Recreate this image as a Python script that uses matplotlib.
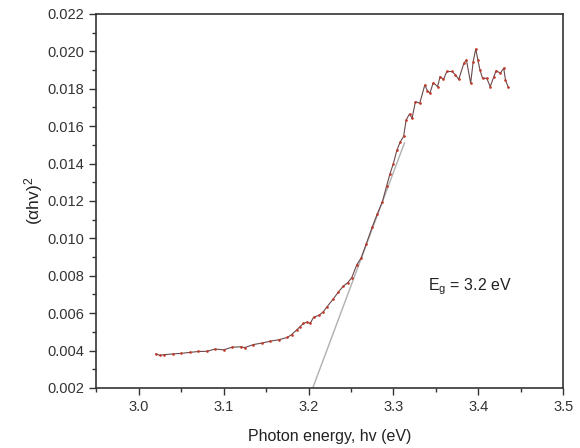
import matplotlib
matplotlib.use("Agg")
import matplotlib.pyplot as plt
from matplotlib.ticker import MultipleLocator

# datos (Tauc plot)
energia = [3.020, 3.025, 3.030, 3.040, 3.050, 3.060, 3.070, 3.080, 3.090, 3.100,
           3.110, 3.120, 3.125, 3.135, 3.145, 3.155, 3.165, 3.175, 3.180, 3.186,
           3.190, 3.194, 3.198, 3.202, 3.206, 3.212, 3.217, 3.222, 3.229, 3.235,
           3.241, 3.246, 3.251, 3.257, 3.262, 3.268, 3.275, 3.281, 3.287, 3.292,
           3.296, 3.300, 3.304, 3.308, 3.312, 3.315, 3.319, 3.322, 3.326, 3.331,
           3.337, 3.340, 3.343, 3.347, 3.352, 3.355, 3.359, 3.363, 3.369, 3.373,
           3.377, 3.383, 3.386, 3.391, 3.394, 3.397, 3.3995, 3.402, 3.405, 3.410,
           3.414, 3.418, 3.421, 3.426, 3.430, 3.432, 3.435]
ahv2 = [0.00382, 0.00375, 0.00378, 0.00382, 0.00385, 0.00390, 0.00395, 0.00396, 0.00408, 0.00404,
        0.00418, 0.00420, 0.00416, 0.00432, 0.00440, 0.00450, 0.00458, 0.00470, 0.00485, 0.00510,
        0.00528, 0.00545, 0.00552, 0.00546, 0.00578, 0.00588, 0.00605, 0.00635, 0.00675, 0.00712,
        0.00745, 0.00762, 0.00790, 0.00860, 0.00895, 0.00970, 0.01060, 0.01130, 0.01195, 0.01280,
        0.01345, 0.01400, 0.01470, 0.01515, 0.01545, 0.01633, 0.01665, 0.01642, 0.01731, 0.01722,
        0.01820, 0.01790, 0.01776, 0.01833, 0.01811, 0.01865, 0.01850, 0.01892, 0.01892, 0.01875,
        0.01850, 0.01936, 0.01954, 0.01829, 0.01945, 0.02013, 0.01954, 0.01900, 0.01856, 0.01856,
        0.01811, 0.01860, 0.01897, 0.01883, 0.01910, 0.01847, 0.01811]

# tangente (extrapolacion lineal)
tang_x = [3.205, 3.313]
tang_y = [0.002, 0.0151]

plt.rcParams.update({"font.family": "Liberation Sans",
                     "mathtext.fontset": "custom",
                     "mathtext.rm": "Liberation Sans",
                     "mathtext.it": "Liberation Sans"})

fig = plt.figure(figsize=(5.8, 4.48), dpi=100)
ax = fig.add_axes([0.166, 0.134, 0.805, 0.835])

ax.plot(tang_x, tang_y, color="#b0b0b0", lw=1.0, zorder=1)
ax.plot(energia, ahv2, color="#6a4a4a", lw=0.8, marker="o", ms=0.9,
        mfc="#c0392b", mec="#c0392b", zorder=2)

ax.text(3.39, 0.0074, r"E$_\mathregular{g}$ = 3.2 eV", fontsize=11.5,
        ha="center", va="center", color="#222222")

ax.set_xlim(2.95, 3.5)
ax.set_ylim(0.002, 0.022)
ax.xaxis.set_major_locator(MultipleLocator(0.1))
ax.xaxis.set_minor_locator(MultipleLocator(0.05))
ax.yaxis.set_major_locator(MultipleLocator(0.002))
ax.yaxis.set_minor_locator(MultipleLocator(0.001))
ax.xaxis.set_major_formatter(lambda v, p: f"{v:.1f}")
ax.yaxis.set_major_formatter(lambda v, p: f"{v:.3f}")

ax.tick_params(which="major", direction="out", length=5, width=1,
               labelsize=10.5, colors="#333333")
ax.tick_params(which="minor", direction="out", length=3, width=1, colors="#333333")
for s in ax.spines.values():
    s.set_linewidth(1.2)
    s.set_color("#333333")

ax.set_xlabel("Photon energy, hv (eV)", fontsize=11.5, color="#222222", labelpad=11)
ax.set_ylabel(r"($\mathregular{\alpha}$hv)$^\mathregular{2}$", fontsize=12.5,
              color="#222222", labelpad=2)

fig.savefig("out.png", dpi=100)
